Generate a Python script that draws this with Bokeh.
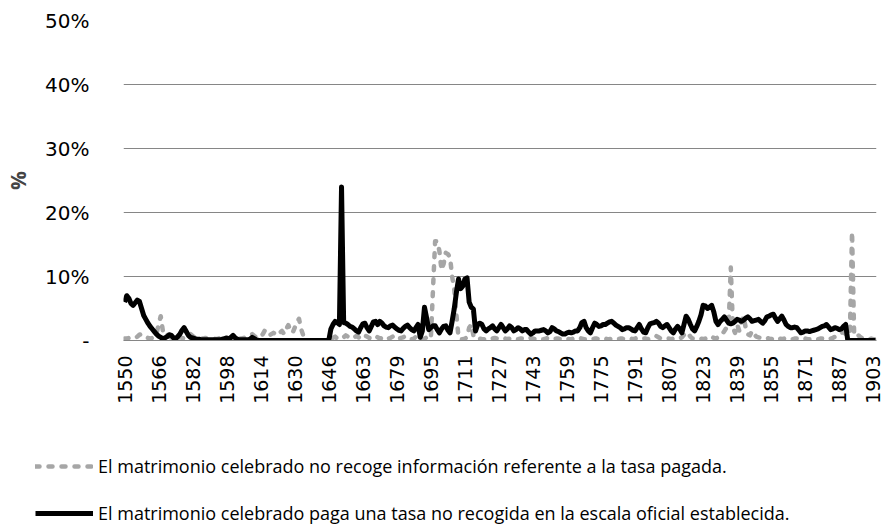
import math
from bokeh.plotting import figure
from bokeh.layouts import column
from bokeh.models import Range1d, Legend, LegendItem, FixedTicker, ColumnDataSource
from bokeh.embed import file_html
from bokeh.resources import INLINE

# Categories: one per year (one year missing between 1647 and 1662)
years = [str(y) for y in range(1550, 1905) if y != 1655]
label_step = 16
shown_years = years[::label_step]

y_ticks = [0, 10, 20, 30, 40, 50]
y_tick_labels = ["-", "10%", "20%", "30%", "40%", "50%"]

label_sin_info = "El matrimonio celebrado no recoge información referente a la tasa pagada."
label_otra_tasa = "El matrimonio celebrado paga una tasa no recogida en la escala oficial establecida."

# % of marriages without information on the fee paid (grey dashed)
sin_info = [
    0.3, 0.3, 0.4, 0.3, 0.3, 0.4, 0.6, 0.9, 1.0, 0.7,
    0.5, 0.4, 0.3, 0.4, 0.6, 1.0, 2.5, 3.8, 1.5, 0.8,
    1.0, 0.6, 0.4, 0.3, 0.3, 0.4, 0.5, 0.4, 0.3, 0.5,
    0.8, 1.0, 0.7, 0.5, 0.4, 0.3, 0.3, 0.3, 0.4, 0.3,
    0.3, 0.3, 0.3, 0.2, 0.3, 0.4, 0.3, 0.3, 0.2, 0.3,
    0.3, 0.4, 0.3, 0.2, 0.3, 0.3, 0.4, 0.5, 0.6, 0.8,
    1.0, 0.7, 0.5, 0.4, 0.6, 1.0, 1.6, 1.2, 0.8, 1.0,
    1.2, 1.0, 0.8, 1.2, 1.5, 1.0, 1.8, 2.4, 1.5, 1.2,
    2.0, 2.8, 3.4, 1.8, 0.8, 0.0, 0.0, 0.0, 0.0, 0.0,
    0.0, 0.0, 0.0, 0.0, 0.0, 0.0, 0.0, 0.2, 0.4, 0.6,
    0.3, 0.2, 0.4, 0.5, 0.8, 0.6, 0.4, 0.3, 0.5, 0.7,
    0.5, 0.3, 0.4, 0.8, 0.6, 0.4, 0.3, 0.5, 0.7, 0.5,
    0.3, 0.4, 0.6, 0.5, 0.3, 0.4, 0.6, 0.8, 0.5, 0.3,
    0.4, 0.5, 0.7, 0.5, 0.3, 0.2, 0.3, 0.6, 0.8, 0.4,
    0.2, 0.3, 0.5, 0.3, 0.3, 8.0, 15.5, 15.5, 14.0, 11.0,
    12.0, 13.7, 13.5, 13.0, 10.0, 8.0, 4.0, 0.5, 0.2, 0.2,
    0.3, 0.5, 2.0, 2.5, 0.8, 0.3, 0.2, 0.3, 0.2, 0.2,
    0.3, 0.2, 0.2, 0.3, 0.4, 0.3, 0.2, 0.2, 0.3, 0.3,
    0.2, 0.3, 0.4, 0.3, 0.2, 0.2, 0.3, 0.3, 0.2, 0.2,
    0.3, 0.4, 0.3, 0.2, 0.2, 0.3, 0.2, 0.2, 0.3, 0.4,
    0.3, 0.2, 0.2, 0.3, 0.3, 0.2, 0.2, 0.3, 0.3, 0.2,
    0.2, 0.3, 0.4, 0.5, 0.4, 0.3, 0.2, 0.2, 0.3, 0.3,
    0.2, 0.3, 0.3, 0.2, 0.2, 0.3, 0.3, 0.2, 0.2, 0.3,
    0.3, 0.2, 0.2, 0.3, 0.3, 0.2, 0.2, 0.3, 0.3, 0.2,
    0.3, 0.4, 0.3, 0.2, 0.3, 0.3, 0.2, 0.3, 0.5, 0.6,
    0.7, 0.5, 0.3, 0.3, 0.2, 0.3, 0.3, 0.2, 0.3, 0.4,
    0.3, 0.3, 0.5, 0.9, 1.3, 1.1, 0.6, 0.3, 0.3, 0.2,
    0.3, 0.3, 0.2, 0.3, 0.5, 0.7, 0.6, 0.4, 0.3, 0.5,
    0.8, 1.0, 1.5, 2.0, 2.4, 11.4, 2.0, 1.2, 2.5, 1.5,
    3.0, 3.8, 2.0, 1.0, 0.8, 1.5, 1.0, 0.6, 0.5, 0.4,
    0.3, 0.3, 0.4, 0.3, 0.2, 0.3, 0.5, 0.4, 0.3, 0.2,
    0.3, 0.4, 0.3, 0.2, 0.2, 0.3, 0.3, 0.2, 0.2, 0.3,
    0.3, 0.2, 0.2, 0.3, 0.3, 0.2, 0.2, 0.3, 0.3, 0.4,
    0.3, 0.2, 0.3, 0.4, 0.6, 0.8, 1.0, 1.2, 1.3, 1.0,
    1.5, 1.2, 17.0, 0.8, 0.6, 0.8, 0.5, 0.3, 0.2, 0.2,
    0.2, 0.3, 0.2, 0.2,
]

# % of marriages paying a fee outside the official scale (black solid)
otra_tasa = [
    6.0, 7.0, 6.6, 5.8, 5.5, 5.9, 6.3, 6.1, 5.0, 3.9,
    3.3, 2.7, 2.2, 1.8, 1.4, 1.0, 0.7, 0.5, 0.3, 0.4,
    0.6, 0.9, 0.8, 0.4, 0.3, 0.6, 1.0, 1.6, 2.0, 1.4,
    0.8, 0.5, 0.4, 0.3, 0.2, 0.2, 0.1, 0.1, 0.1, 0.1,
    0.1, 0.1, 0.1, 0.1, 0.1, 0.1, 0.2, 0.3, 0.4, 0.2,
    0.5, 0.8, 0.4, 0.2, 0.1, 0.1, 0.1, 0.1, 0.1, 0.2,
    0.5, 0.3, 0.1, 0.0, 0.0, 0.0, 0.0, 0.0, 0.0, 0.0,
    0.0, 0.0, 0.0, 0.0, 0.0, 0.0, 0.0, 0.0, 0.0, 0.0,
    0.0, 0.0, 0.0, 0.0, 0.0, 0.0, 0.0, 0.0, 0.0, 0.0,
    0.0, 0.0, 0.0, 0.0, 0.0, 0.0, 0.0, 1.8, 2.5, 3.0,
    2.8, 2.5, 24.0, 2.8, 2.7, 2.5, 2.2, 2.1, 1.8, 1.5,
    1.3, 2.0, 2.6, 2.7, 2.0, 1.5, 2.2, 2.9, 3.0, 2.5,
    3.0, 2.7, 2.3, 2.1, 2.0, 2.3, 2.4, 2.1, 1.8, 1.6,
    1.5, 1.9, 2.2, 2.4, 2.0, 1.7, 1.5, 2.0, 2.5, 0.5,
    1.5, 5.2, 3.5, 1.7, 2.0, 2.3, 2.3, 1.7, 1.2, 1.8,
    2.2, 2.3, 1.6, 1.2, 3.0, 5.0, 7.5, 9.6, 8.1, 8.5,
    9.6, 9.8, 6.0, 5.2, 4.9, 1.5, 2.5, 2.7, 2.5, 1.8,
    1.5, 1.8, 2.0, 2.3, 1.8, 1.5, 2.0, 2.5, 2.0, 1.5,
    1.8, 2.3, 2.0, 1.5, 1.7, 2.0, 1.8, 1.5, 1.7, 1.7,
    1.3, 1.0, 1.2, 1.5, 1.5, 1.5, 1.6, 1.7, 1.5, 1.2,
    1.4, 2.0, 1.8, 1.5, 1.4, 1.2, 1.0, 1.0, 1.2, 1.3,
    1.2, 1.3, 1.5, 1.5, 2.0, 2.8, 3.0, 2.0, 1.5, 1.2,
    2.0, 2.7, 2.5, 2.2, 2.3, 2.5, 2.5, 2.7, 2.9, 3.0,
    2.7, 2.4, 2.2, 2.0, 1.7, 1.8, 2.0, 2.0, 1.8, 1.6,
    1.5, 2.0, 2.5, 1.8, 1.3, 1.2, 2.0, 2.6, 2.7, 2.8,
    3.0, 2.7, 2.2, 2.0, 2.3, 2.5, 2.0, 1.5, 1.2, 1.8,
    2.2, 1.8, 1.2, 2.5, 3.8, 3.3, 2.5, 1.8, 1.5, 2.2,
    3.0, 4.0, 5.5, 5.4, 5.0, 5.2, 5.5, 4.5, 3.0, 2.5,
    3.0, 3.3, 3.7, 3.2, 2.7, 2.6, 2.7, 3.0, 3.3, 3.2,
    3.0, 3.2, 3.5, 3.7, 3.4, 3.0, 3.1, 3.2, 3.3, 3.0,
    2.7, 3.1, 3.7, 3.8, 4.0, 4.1, 3.5, 3.0, 3.4, 3.8,
    3.2, 2.5, 2.2, 2.0, 2.0, 2.1, 2.0, 1.6, 1.2, 1.3,
    1.5, 1.5, 1.4, 1.5, 1.6, 1.7, 1.8, 2.0, 2.2, 2.3,
    2.5, 2.1, 1.7, 1.8, 2.0, 1.9, 1.7, 1.8, 2.2, 2.5,
    0.0, 0.0, 0.0, 0.0, 0.0, 0.0, 0.0, 0.0, 0.0, 0.0,
    0.0, 0.0, 0.0, 0.0,
]

assert len(years) == len(sin_info) == len(otra_tasa)

TICK_FONT = "DejaVu Sans"
TEXT_FONT = "Open Sans"
GRID = "#868686"
GRAY = "#A6A6A6"

pos = list(range(len(years)))  # category slots along the axis
src = ColumnDataSource(data=dict(pos=pos, year=years, sin_info=sin_info, otra_tasa=otra_tasa))

gray_style = dict(line_color=GRAY, line_width=4.5, line_dash="4 9", line_cap="round", line_join="round")
black_style = dict(line_color="black", line_width=5, line_join="round")

p = figure(
    width=887, height=410,
    x_range=Range1d(-0.5, len(years) - 0.5),
    y_range=Range1d(0, 50),
    output_backend="svg", toolbar_location=None,
    min_border_left=123, min_border_right=11, min_border_top=20, min_border_bottom=70,
)
p.outline_line_color = None
p.background_fill_color = "white"
p.frame_align = False

p.line(x="pos", y="sin_info", source=src, **gray_style)
p.line(x="pos", y="otra_tasa", source=src, **black_style)

# x axis: category labels every 16 categories
tick_pos = [pos[i] for i in range(0, len(years), label_step)]
xa = p.xaxis[0]
xa.ticker = FixedTicker(ticks=tick_pos)
xa.major_label_overrides = {t: y for t, y in zip(tick_pos, shown_years)}
xa.major_label_orientation = math.pi / 2
xa.major_tick_line_color = None
xa.minor_tick_line_color = None
xa.axis_line_color = GRID
xa.major_label_text_font = TICK_FONT
xa.major_label_text_font_size = "19px"
xa.major_label_text_color = "black"
xa.major_label_standoff = 9

# y axis
ya = p.yaxis[0]
ya.ticker = FixedTicker(ticks=y_ticks)
ya.major_label_overrides = {t: l for t, l in zip(y_ticks, y_tick_labels)}
ya.axis_line_color = None
ya.major_tick_line_color = None
ya.minor_tick_line_color = None
ya.major_label_text_font = TICK_FONT
ya.major_label_text_font_size = "20px"
ya.major_label_text_color = "black"
ya.major_label_standoff = 28
ya.axis_label = "%"
ya.axis_label_text_font = TEXT_FONT
ya.axis_label_text_font_size = "21px"
ya.axis_label_text_font_style = "bold"
ya.axis_label_standoff = 10

p.xgrid.grid_line_color = None
p.ygrid.ticker = FixedTicker(ticks=y_ticks)
p.ygrid.grid_line_color = GRID
p.ygrid.grid_line_width = 1

# legend strip below the chart: same series, drawn outside its view, used for the legend swatches
lg = figure(
    width=887, height=122,
    x_range=Range1d(-0.5, len(years) - 0.5), y_range=Range1d(1000, 1001),
    x_axis_location=None, y_axis_location=None,
    output_backend="svg", toolbar_location=None, min_border=0,
)
lg.outline_line_color = None
lg.grid.visible = False
lg.frame_align = False
k_gray = lg.line(x="pos", y="sin_info", source=src, **gray_style)
k_black = lg.line(x="pos", y="otra_tasa", source=src, **black_style)

legend = Legend(
    items=[LegendItem(label=label_sin_info, renderers=[k_gray]),
           LegendItem(label=label_otra_tasa, renderers=[k_black])],
    location=(35, 7),
    orientation="vertical",
    glyph_width=58, glyph_height=24, label_height=24, spacing=23,
    label_standoff=5, padding=0, margin=0,
    border_line_color=None, background_fill_alpha=0,
    label_text_font=TEXT_FONT, label_text_font_size="18px", label_text_color="black",
)
lg.add_layout(legend)

open("out.html", "w").write(file_html(column(p, lg, spacing=0), INLINE))
